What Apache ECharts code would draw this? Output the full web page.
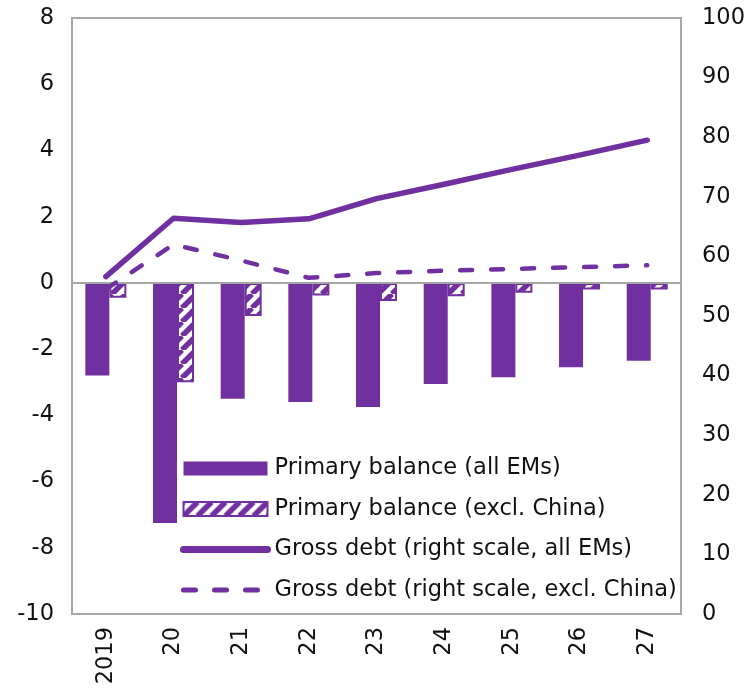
<!DOCTYPE html>
<html>
<head>
<meta charset="utf-8">
<title>Emerging markets: primary balance and gross debt</title>
<script src="https://cdn.jsdelivr.net/npm/echarts@6/dist/echarts.min.js"></script>
<style>
  html, body { margin: 0; padding: 0; background: #fff; }
  #chart { width: 748px; height: 688px; }
</style>
</head>
<body>
<div id="chart"></div>
<script>
// Years on the category axis
const years = ['2019', '20', '21', '22', '23', '24', '25', '26', '27'];

// Primary balance, % of GDP (left scale)
const balanceAll = [-2.8, -7.25, -3.5, -3.6, -3.75, -3.05, -2.85, -2.55, -2.35];
const balanceExChina = [-0.45, -3.0, -1.0, -0.38, -0.55, -0.4, -0.3, -0.2, -0.2];

// Gross debt, % of GDP (right scale)
const debtAll = [56.6, 66.4, 65.7, 66.3, 69.7, 72.1, 74.6, 77.0, 79.5];
const debtExChina = [54.5, 62.0, 59.3, 56.4, 57.2, 57.6, 57.9, 58.2, 58.5];

// Axis ranges
const leftAxis = { min: -10, max: 8, interval: 2 };
const rightAxis = { min: 0, max: 100, interval: 10 };

const names = [
  'Primary balance (all EMs)',
  'Primary balance (excl. China)',
  'Gross debt (right scale, all EMs)',
  'Gross debt (right scale, excl. China)'
];

const PURPLE = '#7030a0';
const FRAME = '#a6a6a6';
const FONT = 'DejaVu Sans';
const FONT_SIZE = 22.5;

// Diagonal hatch fill for the "excl. China" bars
function hatchPattern() {
  const size = 14;
  const c = document.createElement('canvas');
  c.width = size;
  c.height = size;
  const g = c.getContext('2d');
  g.fillStyle = '#ffffff';
  g.fillRect(0, 0, size, size);
  g.strokeStyle = PURPLE;
  g.lineWidth = 5.5;
  g.beginPath();
  for (const k of [-size, 0, size]) {
    g.moveTo(k, size);
    g.lineTo(k + size, 0);
  }
  g.stroke();
  return c;
}

const chart = echarts.init(document.getElementById('chart'), null, { renderer: 'canvas' });

const labelStyle = { fontFamily: FONT, fontSize: FONT_SIZE, color: '#111' };

chart.setOption({
  animation: false,
  backgroundColor: '#fff',
  textStyle: { fontFamily: FONT },
  grid: {
    left: 72, right: 65, top: 18, bottom: 74,
    show: true, borderColor: FRAME, borderWidth: 2, backgroundColor: 'transparent'
  },
  legend: {
    orient: 'vertical',
    left: 180,
    top: 457,
    padding: 0,
    itemWidth: 84,
    itemHeight: 14,
    itemGap: 17.5,
    textStyle: { fontFamily: FONT, fontSize: FONT_SIZE, color: '#111', lineHeight: 23, padding: [0, 0, 0, 2] },
    data: [
      { name: names[0], icon: 'rect' },
      { name: names[1], icon: 'rect' },
      { name: names[2], itemStyle: { opacity: 0 }, lineStyle: { width: 7, type: 'solid', cap: 'round' } },
      { name: names[3], itemStyle: { opacity: 0 }, lineStyle: { width: 5, type: [12, 19], cap: 'round' } }
    ]
  },
  xAxis: {
    type: 'category',
    data: years,
    axisLine: { show: false },
    axisTick: { show: false },
    splitLine: { show: false },
    axisLabel: Object.assign({ rotate: 90, margin: 13 }, labelStyle)
  },
  yAxis: [
    {
      type: 'value',
      min: leftAxis.min, max: leftAxis.max, interval: leftAxis.interval,
      position: 'left',
      axisLine: { show: false },
      axisTick: { show: false },
      splitLine: { show: false },
      axisLabel: Object.assign({ margin: 18 }, labelStyle)
    },
    {
      type: 'value',
      min: rightAxis.min, max: rightAxis.max, interval: rightAxis.interval,
      position: 'right',
      axisLine: { show: false },
      axisTick: { show: false },
      splitLine: { show: false },
      axisLabel: Object.assign({ margin: 21 }, labelStyle)
    }
  ],
  series: [
    {
      name: names[0],
      type: 'bar',
      yAxisIndex: 0,
      data: balanceAll,
      barWidth: 24,
      barGap: '0%',
      itemStyle: { color: PURPLE },
      markLine: {
        silent: true,
        symbol: 'none',
        label: { show: false },
        lineStyle: { color: FRAME, width: 2, type: 'solid' },
        data: [{ yAxis: 0 }]
      }
    },
    {
      name: names[1],
      type: 'bar',
      yAxisIndex: 0,
      data: balanceExChina,
      barWidth: 17,
      barGap: '0%',
      itemStyle: {
        color: { image: hatchPattern(), repeat: 'repeat' },
        borderColor: PURPLE,
        borderWidth: 2
      }
    },
    {
      name: names[2],
      type: 'line',
      yAxisIndex: 1,
      data: debtAll,
      symbol: 'none',
      z: 5,
      itemStyle: { color: PURPLE },
      lineStyle: { color: PURPLE, width: 5.5, cap: 'round', join: 'round' }
    },
    {
      name: names[3],
      type: 'line',
      yAxisIndex: 1,
      data: debtExChina,
      symbol: 'none',
      z: 5,
      itemStyle: { color: PURPLE },
      lineStyle: { color: PURPLE, width: 4.5, type: [12, 19], cap: 'round', join: 'round' }
    }
  ]
});
</script>
</body>
</html>
